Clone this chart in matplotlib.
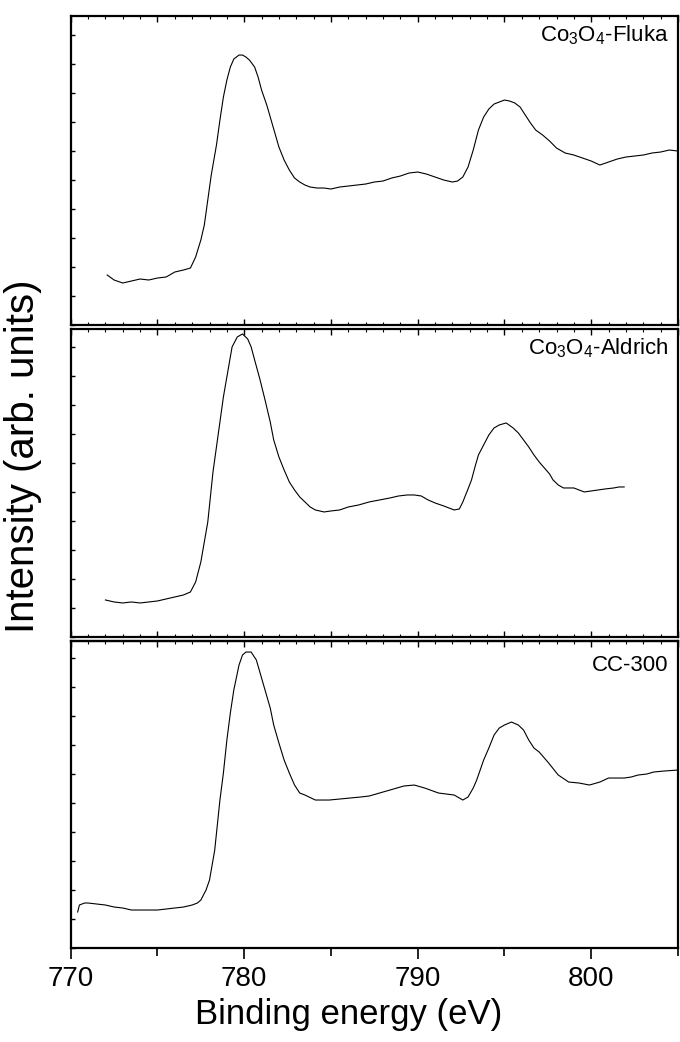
import matplotlib
matplotlib.use("Agg")
import matplotlib.pyplot as plt
from matplotlib.ticker import MultipleLocator, NullFormatter

plt.rcParams['font.family'] = ['Liberation Sans', 'DejaVu Sans']
plt.rcParams['mathtext.default'] = 'regular'

# Co3O4-Fluka (top panel)
fluka_x = [772.1, 772.5, 773.0, 773.5, 774.0, 774.5, 775.0, 775.5, 776.0, 776.5, 776.9,
           777.2, 777.5, 777.7, 777.9, 778.1, 778.4, 778.6, 778.8, 779.0, 779.2, 779.4,
           779.7, 779.9, 780.1, 780.3, 780.6, 780.8, 781.0, 781.3, 781.5, 781.8, 782.0,
           782.3, 782.6, 782.9, 783.2, 783.5, 783.8, 784.2, 784.6, 785.0, 785.5, 786.0,
           786.5, 787.0, 787.5, 788.0, 788.5, 789.0, 789.5, 790.0, 790.5, 791.0, 791.5,
           792.0, 792.3, 792.6, 792.9, 793.2, 793.5, 793.8, 794.1, 794.4, 794.7, 795.0,
           795.3, 795.6, 795.9, 796.2, 796.5, 796.8, 797.2, 797.6, 798.0, 798.5, 799.0,
           799.5, 800.0, 800.5, 801.0, 801.5, 802.0, 802.5, 803.0, 803.5, 804.0, 804.5, 805.0]
fluka_y = [50, 45, 42, 44, 46, 45, 47, 48, 53, 55, 57,
           68, 85, 100, 125, 150, 180, 205, 228, 245, 258, 266,
           270, 270, 268, 265, 258, 248, 235, 220, 208, 190, 178,
           165, 155, 147, 143, 140, 138, 137, 137, 136, 138, 139,
           140, 141, 143, 144, 147, 149, 152, 153, 151, 148, 145,
           143, 144, 148, 158, 175, 195, 208, 216, 221, 223, 225,
           224, 222, 218, 210, 202, 195, 190, 184, 177, 172, 170,
           167, 164, 160, 163, 166, 168, 169, 170, 172, 173, 175, 174]

# Co3O4-Aldrich (middle panel)
aldrich_x = [772.0, 772.5, 773.0, 773.5, 774.0, 774.5, 775.0, 775.5, 776.0, 776.5, 776.9,
             777.2, 777.5, 777.7, 777.9, 778.2, 778.4, 778.6, 778.8, 779.0, 779.3, 779.6,
             779.9, 780.2, 780.4, 780.6, 780.9, 781.2, 781.5, 781.7, 782.0, 782.3, 782.6,
             782.9, 783.2, 783.5, 783.8, 784.1, 784.6, 785.0, 785.5, 786.0, 786.6, 787.2,
             787.8, 788.4, 788.9, 789.4, 789.8, 790.2, 790.6, 791.0, 791.5, 792.1, 792.4,
             792.6, 792.9, 793.1, 793.3, 793.5, 793.8, 794.1, 794.4, 794.7, 795.1, 795.5,
             795.8, 796.1, 796.4, 796.7, 797.0, 797.3, 797.6, 797.8, 798.1, 798.4, 798.7,
             799.0, 799.3, 799.6, 800.0, 800.4, 800.8, 801.3, 801.6, 801.9]
aldrich_y = [37, 35, 34, 35, 34, 35, 36, 38, 40, 42, 45,
             55, 75, 95, 115, 165, 190, 215, 240, 260, 290, 300,
             303, 298, 290, 277, 258, 237, 215, 197, 180, 167, 155,
             147, 140, 135, 130, 127, 125, 126, 127, 130, 132, 135,
             137, 139, 141, 142, 142, 141, 137, 134, 131, 127, 128,
             135, 148, 157, 170, 182, 192, 202, 209, 212, 214, 209,
             204, 197, 190, 182, 175, 169, 163, 157, 152, 149, 149,
             149, 147, 145, 146, 147, 148, 149, 150, 150]

# CC-300 (bottom panel)
cc300_x = [770.4, 770.5, 770.8, 771.0, 771.5, 772.0, 772.5, 773.0, 773.5, 774.0, 774.5,
           775.0, 775.5, 776.0, 776.5, 777.0, 777.3, 777.5, 777.8, 778.0, 778.3, 778.6,
           778.8, 779.0, 779.2, 779.4, 779.7, 779.9, 780.1, 780.4, 780.7, 781.0, 781.2,
           781.5, 781.7, 782.0, 782.3, 782.6, 782.9, 783.2, 783.5, 784.1, 784.9, 785.5,
           786.1, 786.7, 787.2, 787.8, 788.4, 789.2, 789.8, 790.4, 791.2, 792.1, 792.6,
           792.9, 793.2, 793.4, 793.6, 793.8, 794.1, 794.4, 794.7, 795.0, 795.4, 795.8,
           796.1, 796.4, 796.7, 797.0, 797.5, 798.1, 798.7, 799.3, 799.9, 800.5, 801.0,
           801.5, 801.9, 802.3, 802.7, 803.2, 803.6, 804.2, 805.0]
cc300_y = [36, 43, 45, 45, 44, 43, 41, 40, 38, 38, 38,
           38, 39, 40, 41, 43, 45, 48, 58, 68, 98, 148,
           175, 208, 235, 258, 283, 293, 296, 296, 288, 270, 258,
           240, 223, 205, 188, 175, 163, 155, 153, 148, 148, 149,
           150, 151, 152, 155, 158, 162, 163, 160, 155, 153, 148,
           151, 160, 168, 178, 188, 200, 213, 220, 223, 226, 223,
           218, 208, 200, 196, 186, 173, 166, 165, 163, 166, 170,
           170, 170, 171, 173, 174, 176, 177, 178]

labels = ['Co$_3$O$_4$-Fluka', 'Co$_3$O$_4$-Aldrich', 'CC-300']
series = [(fluka_x, fluka_y), (aldrich_x, aldrich_y), (cc300_x, cc300_y)]

fig = plt.figure(figsize=(6.8, 10.42), dpi=100)

# panel boxes in figure fractions (left, bottom, width, height)
boxes = [(0.104, 0.6881, 0.893, 0.2965),
         (0.104, 0.3887, 0.893, 0.2956),
         (0.104, 0.0902, 0.893, 0.2946)]
heights = [309, 308, 307]

for i, (box, (x, y), lab) in enumerate(zip(boxes, series, labels)):
    ax = fig.add_axes(box)
    ax.plot(x, y, color='black', lw=0.8)
    ax.set_xlim(770, 805)
    ax.set_ylim(0, heights[i])
    for sp in ax.spines.values():
        sp.set_linewidth(1.6)
    ax.yaxis.set_major_locator(MultipleLocator(29))
    ax.yaxis.set_major_formatter(NullFormatter())
    ax.tick_params(axis='y', direction='in', length=3, width=1, right=False)
    ax.text(0.985, 0.975 if i < 2 else 0.955, lab, transform=ax.transAxes,
            ha='right', va='top', fontsize=16)
    if i < 2:
        ax.xaxis.set_major_locator(MultipleLocator(5))
        ax.xaxis.set_minor_locator(MultipleLocator(1))
        ax.xaxis.set_major_formatter(NullFormatter())
        ax.tick_params(axis='x', which='major', direction='in', length=4, width=1, top=True)
        ax.tick_params(axis='x', which='minor', direction='in', length=2, width=0.8, top=True)
    else:
        ax.xaxis.set_major_locator(MultipleLocator(10))
        ax.xaxis.set_minor_locator(MultipleLocator(5))
        ax.tick_params(axis='x', which='major', direction='out', length=8, width=1.2,
                       labelsize=20, pad=5)
        ax.tick_params(axis='x', which='minor', direction='out', length=6, width=1.2)
        ax.tick_params(axis='x', which='both', top=False)
        sec = ax.secondary_xaxis('top')
        sec.xaxis.set_major_locator(MultipleLocator(5))
        sec.xaxis.set_minor_locator(MultipleLocator(1))
        sec.xaxis.set_major_formatter(NullFormatter())
        sec.tick_params(which='major', direction='in', length=4, width=1)
        sec.tick_params(which='minor', direction='in', length=2, width=0.8)
        sec.spines['top'].set_linewidth(1.6)

fig.text(0.512, 0.026, 'Binding energy (eV)', ha='center', va='center', fontsize=25)
fig.text(0.034, 0.562, 'Intensity (arb. units)', ha='center', va='center',
         rotation=90, fontsize=29)

fig.savefig('out.png', dpi=100)
